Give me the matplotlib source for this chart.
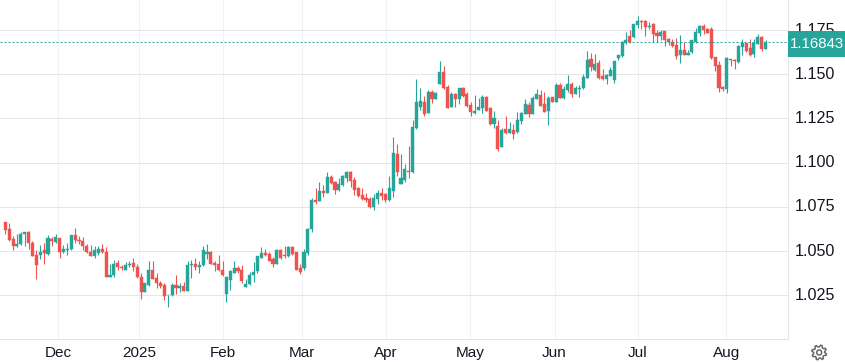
import matplotlib
matplotlib.use('Agg')
import matplotlib.pyplot as plt
import numpy as np
from matplotlib.patches import Polygon, Rectangle, Circle
from matplotlib.transforms import ScaledTranslation

plt.rcParams['font.family'] = ['Liberation Sans', 'DejaVu Sans']

# daily candles
opens = [1.0666,1.0621,1.0568,1.0525,1.0538,1.0594,1.0607,1.0547,1.0477,1.0474,
1.0502,1.0483,1.0568,1.0549,1.0570,1.0496,1.0502,1.0508,1.0587,1.0564,
1.0557,1.0528,1.0496,1.0468,1.0485,1.0513,1.0496,1.0351,1.0361,1.0432,
1.0406,1.0394,1.0417,1.0432,1.0406,1.0353,1.0266,1.0304,1.0393,1.0347,
1.0319,1.0304,1.0247,1.0251,1.0308,1.0289,1.0302,1.0274,1.0417,1.0426,
1.0406,1.0419,1.0481,1.0496,1.0432,1.0423,1.0393,1.0255,1.0334,1.0377,
1.0404,1.0389,1.0295,1.0310,1.0361,1.0383,1.0462,1.0489,1.0483,1.0451,
1.0425,1.0502,1.0474,1.0470,1.0519,1.0491,1.0400,1.0400,1.0485,1.0621,
1.0790,1.0785,1.0841,1.0830,1.0920,1.0892,1.0847,1.0875,1.0915,1.0949,
1.0903,1.0858,1.0819,1.0802,1.0796,1.0751,1.0796,1.0830,1.0824,1.0790,
1.0836,1.1050,1.0881,1.0903,1.0954,1.0949,1.1197,1.1316,1.1345,1.1282,
1.1401,1.1361,1.1446,1.1514,1.1429,1.1316,1.1390,1.1361,1.1424,1.1390,
1.1328,1.1282,1.1299,1.1311,1.1373,1.1311,1.1220,1.1209,1.1090,1.1192,
1.1169,1.1186,1.1175,1.1237,1.1277,1.1328,1.1277,1.1361,1.1383,1.1330,
1.1293,1.1372,1.1345,1.1440,1.1366,1.1411,1.1445,1.1389,1.1419,1.1423,
1.1479,1.1587,1.1525,1.1564,1.1491,1.1474,1.1491,1.1468,1.1592,1.1604,
1.1677,1.1717,1.1711,1.1779,1.1802,1.1802,1.1768,1.1785,1.1734,1.1717,
1.1745,1.1700,1.1683,1.1666,1.1609,1.1638,1.1609,1.1626,1.1683,1.1734,
1.1773,1.1756,1.1756,1.1598,1.1553,1.1428,1.1417,1.1587,1.1581,1.1570,
1.1655,1.1677,1.1649,1.1615,1.1672,1.1711,1.1643]

highs = [1.0666,1.0655,1.0585,1.0598,1.0609,1.0609,1.0615,1.0558,1.0502,1.0534,
1.0547,1.0592,1.0579,1.0598,1.0574,1.0534,1.0547,1.0590,1.0632,1.0585,
1.0579,1.0541,1.0534,1.0530,1.0530,1.0536,1.0519,1.0428,1.0449,1.0447,
1.0417,1.0434,1.0440,1.0462,1.0428,1.0376,1.0315,1.0440,1.0440,1.0372,
1.0327,1.0315,1.0251,1.0315,1.0361,1.0319,1.0325,1.0440,1.0449,1.0462,
1.0445,1.0525,1.0536,1.0498,1.0445,1.0474,1.0440,1.0355,1.0391,1.0445,
1.0413,1.0417,1.0338,1.0381,1.0434,1.0470,1.0519,1.0508,1.0491,1.0466,
1.0508,1.0508,1.0530,1.0525,1.0530,1.0496,1.0423,1.0508,1.0632,1.0802,
1.0858,1.0892,1.0875,1.0949,1.0932,1.0898,1.0915,1.0932,1.0954,1.0952,
1.0920,1.0864,1.0858,1.0830,1.0807,1.0824,1.0847,1.0853,1.0830,1.0926,
1.1147,1.1107,1.1050,1.0994,1.1096,1.1243,1.1475,1.1424,1.1378,1.1412,
1.1412,1.1401,1.1576,1.1548,1.1441,1.1401,1.1395,1.1424,1.1426,1.1401,
1.1345,1.1384,1.1367,1.1384,1.1378,1.1313,1.1294,1.1243,1.1197,1.1265,
1.1231,1.1220,1.1288,1.1288,1.1361,1.1345,1.1378,1.1418,1.1411,1.1400,
1.1377,1.1374,1.1451,1.1451,1.1434,1.1496,1.1457,1.1434,1.1440,1.1502,
1.1632,1.1621,1.1615,1.1581,1.1530,1.1502,1.1541,1.1575,1.1611,1.1689,
1.1739,1.1751,1.1785,1.1830,1.1807,1.1807,1.1796,1.1790,1.1751,1.1751,
1.1747,1.1705,1.1700,1.1705,1.1722,1.1683,1.1638,1.1696,1.1762,1.1779,
1.1785,1.1762,1.1768,1.1600,1.1575,1.1434,1.1598,1.1589,1.1587,1.1666,
1.1700,1.1679,1.1700,1.1700,1.1728,1.1717,1.1694]

lows = [1.0598,1.0558,1.0502,1.0521,1.0534,1.0525,1.0508,1.0468,1.0338,1.0451,
1.0428,1.0479,1.0530,1.0545,1.0462,1.0485,1.0474,1.0506,1.0545,1.0538,
1.0502,1.0485,1.0468,1.0457,1.0479,1.0485,1.0349,1.0349,1.0349,1.0389,
1.0389,1.0393,1.0406,1.0383,1.0347,1.0230,1.0264,1.0298,1.0338,1.0287,
1.0287,1.0219,1.0180,1.0242,1.0253,1.0264,1.0270,1.0270,1.0344,1.0393,
1.0377,1.0415,1.0455,1.0426,1.0383,1.0387,1.0355,1.0213,1.0276,1.0372,
1.0377,1.0315,1.0293,1.0304,1.0321,1.0377,1.0457,1.0468,1.0440,1.0406,
1.0423,1.0451,1.0457,1.0466,1.0479,1.0394,1.0366,1.0394,1.0474,1.0604,
1.0768,1.0785,1.0807,1.0829,1.0881,1.0824,1.0836,1.0869,1.0892,1.0864,
1.0819,1.0807,1.0790,1.0779,1.0745,1.0734,1.0768,1.0790,1.0779,1.0785,
1.0807,1.0926,1.0880,1.0892,1.0915,1.0943,1.1192,1.1299,1.1265,1.1280,
1.1339,1.1359,1.1444,1.1418,1.1309,1.1314,1.1316,1.1333,1.1373,1.1316,
1.1265,1.1277,1.1297,1.1282,1.1292,1.1214,1.1197,1.1067,1.1088,1.1164,
1.1167,1.1135,1.1169,1.1220,1.1275,1.1260,1.1275,1.1359,1.1321,1.1287,
1.1213,1.1343,1.1343,1.1366,1.1361,1.1400,1.1372,1.1387,1.1372,1.1417,
1.1477,1.1519,1.1519,1.1474,1.1468,1.1445,1.1489,1.1451,1.1581,1.1598,
1.1672,1.1677,1.1705,1.1762,1.1756,1.1717,1.1756,1.1683,1.1683,1.1694,
1.1660,1.1666,1.1655,1.1587,1.1564,1.1607,1.1607,1.1621,1.1677,1.1717,
1.1728,1.1732,1.1587,1.1519,1.1400,1.1406,1.1394,1.1547,1.1530,1.1564,
1.1609,1.1626,1.1604,1.1598,1.1670,1.1632,1.1641]

closes = [1.0617,1.0564,1.0526,1.0540,1.0598,1.0609,1.0543,1.0470,1.0419,1.0496,
1.0485,1.0570,1.0555,1.0581,1.0496,1.0511,1.0511,1.0587,1.0564,1.0555,
1.0526,1.0491,1.0470,1.0502,1.0511,1.0491,1.0351,1.0364,1.0428,1.0406,
1.0400,1.0421,1.0426,1.0406,1.0353,1.0266,1.0315,1.0393,1.0340,1.0317,
1.0298,1.0244,1.0249,1.0308,1.0289,1.0302,1.0272,1.0417,1.0426,1.0406,
1.0417,1.0502,1.0496,1.0428,1.0417,1.0391,1.0361,1.0349,1.0383,1.0404,
1.0383,1.0327,1.0310,1.0364,1.0381,1.0468,1.0489,1.0479,1.0445,1.0423,
1.0502,1.0457,1.0468,1.0519,1.0481,1.0394,1.0379,1.0491,1.0626,1.0790,
1.0779,1.0836,1.0830,1.0920,1.0886,1.0847,1.0881,1.0926,1.0949,1.0898,
1.0847,1.0813,1.0796,1.0790,1.0751,1.0802,1.0830,1.0813,1.0790,1.0853,
1.1056,1.0949,1.0915,1.0966,1.0949,1.1203,1.1345,1.1350,1.1277,1.1401,
1.1361,1.1395,1.1514,1.1420,1.1311,1.1390,1.1361,1.1422,1.1378,1.1322,
1.1288,1.1294,1.1316,1.1373,1.1294,1.1220,1.1254,1.1079,1.1186,1.1169,
1.1192,1.1164,1.1243,1.1282,1.1333,1.1277,1.1367,1.1390,1.1323,1.1289,
1.1368,1.1345,1.1440,1.1368,1.1417,1.1445,1.1389,1.1423,1.1423,1.1485,
1.1581,1.1541,1.1558,1.1476,1.1474,1.1496,1.1525,1.1573,1.1609,1.1683,
1.1694,1.1683,1.1783,1.1802,1.1794,1.1768,1.1773,1.1728,1.1717,1.1739,
1.1694,1.1683,1.1660,1.1604,1.1638,1.1609,1.1621,1.1694,1.1739,1.1773,
1.1751,1.1734,1.1592,1.1547,1.1423,1.1417,1.1592,1.1581,1.1575,1.1660,
1.1677,1.1632,1.1609,1.1677,1.1711,1.1643,1.1684]

month_labels = ['Dec', '2025', 'Feb', 'Mar', 'Apr', 'May', 'Jun', 'Jul', 'Aug']
month_pos = [13.67, 34.55, 56.2, 76.4, 98.1, 119.9, 141.6, 163.0, 185.9]
price_ticks = [1.025, 1.050, 1.075, 1.100, 1.125, 1.150, 1.175]
last_price = 1.16843

up_col = '#26a69a'
down_col = '#ef5350'

W, H = 845, 362
fig = plt.figure(figsize=((W + 0.2) / 100, (H + 0.2) / 100), dpi=100, facecolor='white')
ax = fig.add_axes([0, 1 - 339 / H, 788 / W, 339 / H])

o, h, l, c = map(np.array, (opens, highs, lows, closes))
x = np.arange(len(o))
cols = np.where(c >= o, up_col, down_col)

ax.vlines(x, l, h, colors=cols, lw=0.8, zorder=3)
ax.bar(x, np.abs(c - o), bottom=np.minimum(o, c), width=0.8, color=cols,
       edgecolor=cols, lw=0.3, zorder=4)

# last price line, dots about 2px
ax.axhline(last_price, color=up_col, lw=0.72, ls=(0, (2, 2)), zorder=5)

ax.set_xlim(-1.367, 201.83)
ax.set_ylim(1.00007, 1.19217)

ax.set_xticks(month_pos)
ax.set_xticklabels(month_labels)
ax.set_yticks(price_ticks)
ax.set_yticklabels(['%.3f' % t for t in price_ticks])
ax.yaxis.tick_right()
ax.tick_params(axis='x', length=0, pad=5, labelsize=11, labelcolor='#131722')
ax.tick_params(axis='y', length=0, pad=5, labelsize=11.6, labelcolor='#131722')
# price labels sit a little above their grid lines
for lab in ax.get_yticklabels():
    lab.set_transform(lab.get_transform() + ScaledTranslation(0, 1.5 / 100, fig.dpi_scale_trans))

ax.grid(axis='y', color='#e6e6e6', lw=0.72, zorder=0)
ax.grid(axis='x', color='#f0f1f5', lw=0.72, zorder=0)
ax.set_axisbelow(True)
for s in ['top', 'left']:
    ax.spines[s].set_visible(False)
for s in ['right', 'bottom']:
    ax.spines[s].set_color('#e4e4e4')
    ax.spines[s].set_linewidth(0.72)

# overlay in pixels for price tag and settings icon
ov = fig.add_axes([0, 0, 1, 1], zorder=10)
ov.set_xlim(0, W)
ov.set_ylim(H, 0)
ov.axis('off')
ov.patch.set_alpha(0)

ov.add_patch(Rectangle((788, 31), 57, 25.7, fc=up_col, ec='none'))
ov.text(790, 44, '%.5f' % last_price, color='white', fontsize=10.8, va='center', ha='left')

# gear outline
n_teeth = 8
angles = np.linspace(0, 2 * np.pi, n_teeth * 4, endpoint=False) + np.pi / 16
radii = np.tile([7.4, 7.4, 5.6, 5.6], n_teeth)
gear = np.column_stack((819 + radii * np.cos(angles), 352.5 + radii * np.sin(angles)))
ov.add_patch(Polygon(gear, closed=True, fc='none', ec='#666666', lw=1.1))
ov.add_patch(Circle((819, 352.5), 2.5, fc='none', ec='#666666', lw=1.1))

fig.savefig('out.png', dpi=100)
